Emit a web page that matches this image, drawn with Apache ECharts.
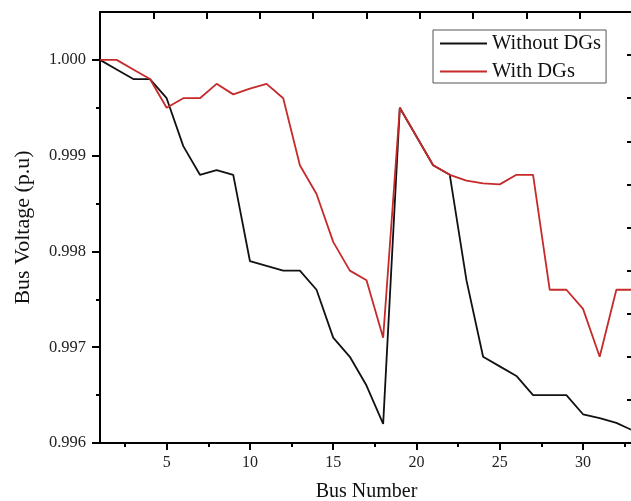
<!DOCTYPE html>
<html>
<head>
<meta charset="utf-8">
<script src="https://cdn.jsdelivr.net/npm/echarts@6/dist/echarts.min.js"></script>
<style>html,body{margin:0;padding:0;background:#fff}#c{width:631px;height:501px}</style>
</head>
<body>
<div id="c"></div>
<script>
const buses = [1,2,3,4,5,6,7,8,9,10,11,12,13,14,15,16,17,18,19,20,21,22,23,24,25,26,27,28,29,30,31,32,33];
const withoutDGs = [1.0000,0.9999,0.9998,0.9998,0.9996,0.9991,0.9988,0.99885,0.9988,0.9979,0.99785,0.9978,0.9978,0.9976,0.9971,0.9969,0.9966,0.9962,0.9995,0.9992,0.9989,0.9988,0.9977,0.9969,0.9968,0.9967,0.9965,0.9965,0.9965,0.9963,0.99626,0.99621,0.99613];
const withDGs = [1.0000,1.0000,0.9999,0.9998,0.9995,0.9996,0.9996,0.99975,0.99964,0.9997,0.99975,0.9996,0.9989,0.9986,0.9981,0.9978,0.9977,0.9971,0.9995,0.9992,0.9989,0.9988,0.99874,0.99871,0.9987,0.9988,0.9988,0.9976,0.9976,0.9974,0.9969,0.9976,0.9976];
const xTickLabels = [5,10,15,20,25,30];
const xMinorTicks = [2.5,7.5,12.5,17.5,22.5,27.5,32.5];
const yTickLabels = [0.996,0.997,0.998,0.999,1.000];
const yMinorTicks = [0.9965,0.9975,0.9985,0.9995];

const font = 'Liberation Serif';
const chart = echarts.init(document.getElementById('c'));
const pairs = arr => buses.map((b,i)=>[b, arr[i]]);
chart.setOption({
  animation: false,
  grid: {left: 100, top: 12, right: -2, bottom: 58, containLabel: false, outerBoundsMode: 'none'},
  legend: {
    left: 433, top: 30, orient: 'vertical', itemGap: 7,
    itemWidth: 47, itemHeight: 2, icon: 'rect',
    borderColor: '#555', borderWidth: 1, padding: [3, 5, 1, 7],
    textStyle: {fontFamily: font, fontSize: 20.5, color: '#111', lineHeight: 20},
    data: ['Without DGs', 'With DGs']
  },
  xAxis: [
    {type: 'value', min: 1, max: 33, position: 'bottom',
     name: 'Bus Number', nameLocation: 'middle', nameGap: 39,
     nameTextStyle: {fontFamily: font, fontSize: 20, color: '#111'},
     axisLine: {show: true, lineStyle: {color: '#000', width: 2}},
     axisTick: {show: true, customValues: xTickLabels, length: 7, inside: false, lineStyle: {color: '#000', width: 2}},
     axisLabel: {customValues: xTickLabels, fontFamily: font, fontSize: 16, color: '#222', margin: 12},
     splitLine: {show: false}},
    {type: 'value', min: 1, max: 33, position: 'bottom',
     axisLine: {show: false},
     axisTick: {show: true, customValues: xMinorTicks, length: 4, lineStyle: {color: '#000', width: 2}},
     axisLabel: {show: false}, splitLine: {show: false}},
    {type: 'value', min: 0, max: 10, interval: 1, position: 'top',
     axisLine: {show: true, lineStyle: {color: '#000', width: 2}},
     axisTick: {show: true, inside: true, length: 7, lineStyle: {color: '#000', width: 2}},
     axisLabel: {show: false}, splitLine: {show: false}}
  ],
  yAxis: [
    {type: 'value', min: 0.996, max: 1.0005, position: 'left',
     name: 'Bus Voltage (p.u)', nameLocation: 'middle', nameGap: 66, nameRotate: 90,
     nameTextStyle: {fontFamily: font, fontSize: 22, color: '#111'},
     axisLine: {show: true, lineStyle: {color: '#000', width: 2}},
     axisTick: {show: true, customValues: yTickLabels, length: 8, lineStyle: {color: '#000', width: 2}},
     axisLabel: {customValues: yTickLabels, formatter: v => v.toFixed(3), fontFamily: font, fontSize: 16.5, color: '#222', margin: 14},
     splitLine: {show: false}},
    {type: 'value', min: 0.996, max: 1.0005, position: 'left',
     axisLine: {show: false},
     axisTick: {show: true, customValues: yMinorTicks, length: 4, lineStyle: {color: '#000', width: 2}},
     axisLabel: {show: false}, splitLine: {show: false}},
    {type: 'value', min: 0, max: 10, interval: 1, position: 'right',
     axisLine: {show: true, lineStyle: {color: '#000', width: 2}},
     axisTick: {show: true, inside: true, length: 6, lineStyle: {color: '#000', width: 2}},
     axisLabel: {show: false}, splitLine: {show: false}}
  ],
  series: [
    {name: 'Without DGs', type: 'line', xAxisIndex: 0, yAxisIndex: 0, data: pairs(withoutDGs),
     symbol: 'none', color: '#111', lineStyle: {color: '#111', width: 1.8}},
    {name: 'With DGs', type: 'line', xAxisIndex: 0, yAxisIndex: 0, data: pairs(withDGs),
     symbol: 'none', color: '#c62a2a', lineStyle: {color: '#c62a2a', width: 1.8}}
  ]
});
</script>
</body>
</html>
